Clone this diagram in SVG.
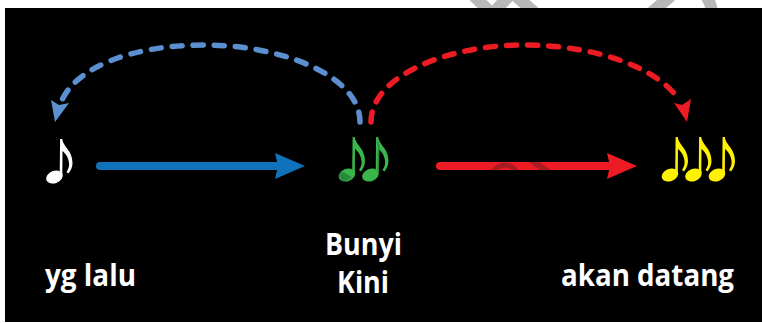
<svg xmlns="http://www.w3.org/2000/svg" width="762" height="323" viewBox="0 0 762 323">
<style>
.lbl{font-family:"Open Sans","Liberation Sans",sans-serif;font-weight:700;font-size:30px;fill:#fff;text-anchor:start}
.dash{fill:none;stroke-width:5.5;stroke-linecap:round;stroke-dasharray:10 11}
.wm{fill:none;stroke:#b8b8b8;stroke-width:12}
.dk{fill:none;stroke:#a81c22;stroke-width:5.500}
</style>
<defs>
<g id="note">
<ellipse cx="0" cy="0" rx="8.600" ry="6.200" transform="rotate(-22)"/>
<path d="M5.200,-2 L5.600,-38 L7.800,-38 C8.500,-30 18,-27 18,-14 C18,-10 16.500,-7 14,-3.500 L12,-5 C14,-8 15,-11 14.500,-14 C14,-20 10.500,-24 8,-26 L7.800,-2 Z"/>
</g>
<clipPath id="ra"><rect x="436" y="162" width="180" height="8"/></clipPath>
</defs>
<rect width="762" height="323" fill="#fff"/>
<g id="watermark">
<path class="wm" d="M474,-4 L490,12"/>
<path class="wm" d="M494,12 L509,-4"/>
<path class="wm" d="M516,-4 L534,12"/>
<path class="wm" d="M652,12 L671,-4"/>
<path class="wm" d="M706,-4 Q711,3 712,12"/>
</g>
<rect id="background" x="5" y="8" width="757" height="314" fill="#000"/>
<g id="connectors">
<path class="dash" style="stroke:#5b8fd0" d="M360,122 C360,75 280,45 205,45 C130,45 77,68 62,100"/>
<path d="M55,122 L51,100 L59,105 L69,103 Z" fill="#5b8fd0"/>
<path class="dash" style="stroke:#ed1c24" d="M371,122 C371,75 450,45 523,45 C600,45 660,70 679,100"/>
<path d="M687,122 L674,103 L682,105 L691,99 Z" fill="#ed1c24"/>
<path d="M100,166 H280" fill="none" stroke="#1072ba" stroke-width="8" stroke-linecap="round"/>
<path d="M275,153 L305,166 L275,179 L278,166 Z" fill="#1072ba"/>
<path d="M440,166 H612" fill="none" stroke="#ed1c24" stroke-width="8" stroke-linecap="round"/>
<path d="M607,153 L637,166 L607,179 L610,166 Z" fill="#ed1c24"/>
<g clip-path="url(#ra)" fill="none" stroke="#a81c22">
<circle cx="505" cy="178" r="13" stroke-width="5"/>
<path d="M531,160 L548,172" stroke-width="6"/>
</g>
</g>
<g id="node-past" fill="#fff">
<use href="#note" x="54.500" y="177"/>
<text class="lbl" x="45" y="286" textLength="91" lengthAdjust="spacingAndGlyphs">yg lalu</text>
</g>
<g id="node-now" fill="#39b54a">
<use href="#note" x="347" y="175"/>
<use href="#note" x="370.500" y="175"/>
<path d="M341,171 L352,177 Q347,182 342,181 L339,177 Z" fill="#2a8a3c"/>
<path d="M378,140 L377.500,172 L379,171 L379.500,146 Z" fill="#2a8a3c"/>
<text class="lbl" x="325" y="255" textLength="77" lengthAdjust="spacingAndGlyphs">Bunyi</text>
<text class="lbl" x="337" y="293" textLength="52" lengthAdjust="spacingAndGlyphs">Kini</text>
</g>
<g id="node-future" fill="#fff200">
<use href="#note" x="670" y="175"/>
<use href="#note" x="693.500" y="175"/>
<use href="#note" x="717" y="175"/>
<text class="lbl" x="561" y="286" textLength="173" lengthAdjust="spacingAndGlyphs">akan datang</text>
</g>
</svg>
